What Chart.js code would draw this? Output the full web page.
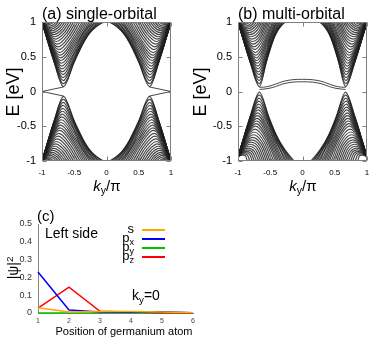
<!DOCTYPE html>
<html>
<head>
<meta charset="utf-8">
<script src="https://cdn.jsdelivr.net/npm/chart.js@4.4.1/dist/chart.umd.min.js"></script>
<style>
body { margin: 0; width: 382px; height: 337px; background: #fff; position: relative; overflow: hidden;
       font-family: "Liberation Sans", Arial, sans-serif; }
canvas { position: absolute; }
.lbl { position: absolute; white-space: nowrap; color: #000; line-height: 1; }
.ctr { transform: translate(-50%, -50%); }
.rot { transform: translate(-50%, -50%) rotate(-90deg); }
sub { font-size: 0.7em; vertical-align: -0.3em; line-height: 0; }
sup { font-size: 0.7em; vertical-align: 0.55em; line-height: 0; }
.key { position: absolute; height: 2px; width: 23px; left: 142px; }
</style>
</head>
<body>
<canvas id="ca" style="left:0;top:0" width="190" height="200"></canvas>
<canvas id="cb" style="left:190px;top:0" width="192" height="200"></canvas>
<canvas id="cc" style="left:0;top:200px" width="200" height="137"></canvas>

<div class="lbl" style="left:42px;top:6px;font-size:16px">(a) single-orbital</div>
<div class="lbl" style="left:238px;top:6px;font-size:16px">(b) multi-orbital</div>
<div class="lbl rot" style="left:13px;top:92px;font-size:18px">E [eV]</div>
<div class="lbl rot" style="left:200px;top:92px;font-size:18px">E [eV]</div>
<div class="lbl ctr" style="left:107px;top:185px;font-size:15px"><i>k</i><sub>y</sub>/π</div>
<div class="lbl ctr" style="left:303px;top:185px;font-size:15px"><i>k</i><sub>y</sub>/π</div>

<div class="lbl" style="left:37px;top:208px;font-size:15px">(c)</div>
<div class="lbl rot" style="left:13px;top:268px;font-size:14px">|ψ|<sup>2</sup></div>
<div class="lbl ctr" style="left:124px;top:331px;font-size:11px">Position of germanium atom</div>
<div class="lbl" style="left:45px;top:226px;font-size:14px">Left side</div>
<div class="lbl" style="left:132px;top:288px;font-size:14px">k<sub>y</sub>=0</div>

<div class="lbl" style="right:248px;top:222px;font-size:13px">s</div>
<div class="lbl" style="right:248px;top:231px;font-size:13px">p<sub>x</sub></div>
<div class="lbl" style="right:248px;top:240px;font-size:13px">p<sub>y</sub></div>
<div class="lbl" style="right:248px;top:249px;font-size:13px">p<sub>z</sub></div>
<div class="key" style="top:229px;background:#ffa500"></div>
<div class="key" style="top:238px;background:#0000ff"></div>
<div class="key" style="top:247px;background:#00c000"></div>
<div class="key" style="top:256px;background:#ff0000"></div>

<script>
// (a) single-orbital: conduction bands, right half (k >= 0); the picture is mirror symmetric in k and E
const bandKA = [
    [0.0444, 0.2069, 0.3558, 0.5079, 0.6676, 0.8065, 0.9044, 0.9682, 1],
    [0.0722, 0.2954, 0.4647, 0.6690, 0.8402, 0.9367, 1],
    [0.1, 0.2248, 0.3657, 0.5140, 0.6712, 0.8085, 0.9053, 0.9686, 1],
    [0.1278, 0.3125, 0.4744, 0.6740, 0.8424, 0.9375, 1],
    [0.1556, 0.2534, 0.3826, 0.5246, 0.6775, 0.8120, 0.9070, 0.9691, 1],
    [0.1833, 0.3372, 0.4891, 0.6817, 0.8459, 0.9389, 1],
    [0.2111, 0.2897, 0.4057, 0.5395, 0.6865, 0.8169, 0.9094, 0.9699, 1],
    [0.2389, 0.3681, 0.5083, 0.6920, 0.8505, 0.9407, 1],
    [0.2667, 0.4782, 0.6980, 0.8830, 1],
    [0.2944, 0.4920, 0.7046, 0.8854, 1],
    [0.3222, 0.5066, 0.7119, 0.8881, 1],
    [0.35, 0.5221, 0.7196, 0.8909, 1],
    [0.3778, 0.5383, 0.7279, 0.8940, 1],
    [0.4111, 0.5588, 0.7385, 0.8979, 1],
    [0.4444, 0.5800, 0.7498, 0.9021, 1],
    [0.4778, 0.6021, 0.7617, 0.9066, 1],
    [0.5111, 0.6249, 0.7742, 0.9113, 1],
    [0.5444, 0.6482, 0.7872, 0.9162, 1],
    [0.5778, 0.6721, 0.8008, 0.9214, 1],
    [0.6111, 0.6965, 0.8148, 0.9268, 1],
    [0.6444, 0.7213, 0.8293, 0.9324, 1],
    [0.6778, 0.7464, 0.8441, 0.9382, 1],
    [0.7111, 0.7719, 0.8593, 0.9441, 1],
    [0.7444, 0.7976, 0.8748, 0.9502, 1],
    [0.7778, 0.8236, 0.8906, 0.9564, 1],
    [0.8167, 0.8541, 0.9093, 0.9638, 1],
    [0.8556, 0.8848, 0.9282, 0.9713, 1]
];
const bandEA = [
    [1, 0.9005, 0.7018, 0.4051, 0.0698, 0.4051, 0.7018, 0.9005, 1],
    [1, 0.8029, 0.5095, 0.1132, 0.5095, 0.8029, 1],
    [1, 0.9026, 0.7089, 0.4249, 0.1564, 0.4249, 0.7089, 0.9026, 1],
    [1, 0.8089, 0.5290, 0.1994, 0.5290, 0.8089, 1],
    [1, 0.9062, 0.7210, 0.4573, 0.2419, 0.4573, 0.7210, 0.9062, 1],
    [1, 0.8180, 0.5572, 0.2840, 0.5572, 0.8180, 1],
    [1, 0.9111, 0.7376, 0.4990, 0.3256, 0.4990, 0.7376, 0.9111, 1],
    [1, 0.8297, 0.5922, 0.3665, 0.5922, 0.8297, 1],
    [1, 0.6826, 0.4067, 0.6826, 1],
    [1, 0.6982, 0.4462, 0.6982, 1],
    [1, 0.7144, 0.4848, 0.7144, 1],
    [1, 0.7312, 0.5225, 0.7312, 1],
    [1, 0.7484, 0.5592, 0.7484, 1],
    [1, 0.7693, 0.6018, 0.7693, 1],
    [1, 0.7902, 0.6428, 0.7902, 1],
    [1, 0.8110, 0.6820, 0.8110, 1],
    [1, 0.8314, 0.7193, 0.8314, 1],
    [1, 0.8512, 0.7547, 0.8512, 1],
    [1, 0.8703, 0.7880, 0.8703, 1],
    [1, 0.8885, 0.8192, 0.8885, 1],
    [1, 0.9057, 0.8480, 0.9057, 1],
    [1, 0.9217, 0.8746, 0.9217, 1],
    [1, 0.9365, 0.8988, 0.9365, 1],
    [1, 0.9499, 0.9205, 0.9499, 1],
    [1, 0.9618, 0.9397, 0.9618, 1],
    [1, 0.9738, 0.9588, 0.9738, 1],
    [1, 0.9837, 0.9744, 0.9837, 1]
];
// (a) edge state, from the cone tip to k = 1
const edgeKA = [0.667, 1];
const edgeEA = [0.065, 0];

// (b) multi-orbital: conduction bands (same energies as (a), narrower cone)
const bandKBup = [
    [0.2685, 0.3725, 0.4678, 0.5652, 0.6676, 0.8065, 0.9044, 0.9682, 1],
    [0.2863, 0.4292, 0.5375, 0.6690, 0.8402, 0.9367, 1],
    [0.3041, 0.3840, 0.4742, 0.5691, 0.6712, 0.8085, 0.9053, 0.9686, 1],
    [0.3219, 0.4401, 0.5437, 0.6740, 0.8424, 0.9375, 1],
    [0.3397, 0.4023, 0.4850, 0.5759, 0.6775, 0.8120, 0.9070, 0.9691, 1],
    [0.3574, 0.4559, 0.5531, 0.6817, 0.8459, 0.9389, 1],
    [0.3752, 0.4255, 0.4998, 0.5854, 0.6865, 0.8169, 0.9094, 0.9699, 1],
    [0.3930, 0.4757, 0.5654, 0.6920, 0.8505, 0.9407, 1],
    [0.4108, 0.5462, 0.6980, 0.8830, 1],
    [0.4285, 0.5550, 0.7046, 0.8854, 1],
    [0.4463, 0.5643, 0.7119, 0.8881, 1],
    [0.4641, 0.5743, 0.7196, 0.8909, 1],
    [0.4819, 0.5846, 0.7279, 0.8940, 1],
    [0.5032, 0.5978, 0.7385, 0.8979, 1],
    [0.5245, 0.6113, 0.7498, 0.9021, 1],
    [0.5459, 0.6255, 0.7617, 0.9066, 1],
    [0.5672, 0.6401, 0.7742, 0.9113, 1],
    [0.5885, 0.6550, 0.7872, 0.9162, 1],
    [0.6099, 0.6721, 0.8008, 0.9214, 1],
    [0.6312, 0.6965, 0.8148, 0.9268, 1],
    [0.6525, 0.7213, 0.8293, 0.9324, 1],
    [0.6778, 0.7464, 0.8441, 0.9382, 1],
    [0.7111, 0.7719, 0.8593, 0.9441, 1],
    [0.7444, 0.7976, 0.8748, 0.9502, 1],
    [0.7778, 0.8236, 0.8906, 0.9564, 1],
    [0.8167, 0.8541, 0.9093, 0.9638, 1],
    [0.8556, 0.8848, 0.9282, 0.9713, 1]
];
// (b) valence bands
const bandKBdn = [
    [0.1316, 0.2713, 0.3994, 0.5302, 0.6676, 0.8065, 0.9044, 0.9682, 1],
    [0.1555, 0.3474, 0.4930, 0.6690, 0.8402, 0.9367, 1],
    [0.1794, 0.2867, 0.4079, 0.5354, 0.6712, 0.8085, 0.9053, 0.9686, 1],
    [0.2033, 0.3621, 0.5014, 0.6740, 0.8424, 0.9375, 1],
    [0.2272, 0.3113, 0.4224, 0.5445, 0.6775, 0.8120, 0.9070, 0.9691, 1],
    [0.2510, 0.3834, 0.5140, 0.6817, 0.8459, 0.9389, 1],
    [0.2749, 0.3425, 0.4423, 0.5573, 0.6865, 0.8169, 0.9094, 0.9699, 1],
    [0.2988, 0.4099, 0.5305, 0.6920, 0.8505, 0.9407, 1],
    [0.3227, 0.5046, 0.6980, 0.8830, 1],
    [0.3466, 0.5165, 0.7046, 0.8854, 1],
    [0.3705, 0.5291, 0.7119, 0.8881, 1],
    [0.3944, 0.5424, 0.7196, 0.8909, 1],
    [0.4183, 0.5563, 0.7279, 0.8940, 1],
    [0.4469, 0.5739, 0.7385, 0.8979, 1],
    [0.4756, 0.5922, 0.7498, 0.9021, 1],
    [0.5043, 0.6112, 0.7617, 0.9066, 1],
    [0.5329, 0.6308, 0.7742, 0.9113, 1],
    [0.5616, 0.6508, 0.7872, 0.9162, 1],
    [0.5903, 0.6721, 0.8008, 0.9214, 1],
    [0.6189, 0.6965, 0.8148, 0.9268, 1],
    [0.6476, 0.7213, 0.8293, 0.9324, 1],
    [0.6778, 0.7464, 0.8441, 0.9382, 1],
    [0.7111, 0.7719, 0.8593, 0.9441, 1],
    [0.7444, 0.7976, 0.8748, 0.9502, 1],
    [0.7778, 0.8236, 0.8906, 0.9564, 1],
    [0.8167, 0.8541, 0.9093, 0.9638, 1],
    [0.8556, 0.8848, 0.9282, 0.9713, 1]
];
const bandEBdn = [
    [-1, -0.8405, -0.6418, -0.3451, -0.0098, -0.3451, -0.6418, -0.8405, -0.94],
    [-1, -0.7429, -0.4495, -0.0532, -0.4495, -0.7429, -0.94],
    [-1, -0.8426, -0.6489, -0.3649, -0.0964, -0.3649, -0.6489, -0.8426, -0.94],
    [-1, -0.7489, -0.4690, -0.1394, -0.4690, -0.7489, -0.94],
    [-1, -0.8462, -0.6610, -0.3973, -0.1819, -0.3973, -0.6610, -0.8462, -0.94],
    [-1, -0.7580, -0.4972, -0.2240, -0.4972, -0.7580, -0.94],
    [-1, -0.8511, -0.6776, -0.4390, -0.2656, -0.4390, -0.6776, -0.8511, -0.94],
    [-1, -0.7697, -0.5322, -0.3065, -0.5322, -0.7697, -0.94],
    [-1, -0.6226, -0.3467, -0.6226, -0.94],
    [-1, -0.6382, -0.3862, -0.6382, -0.94],
    [-1, -0.6544, -0.4248, -0.6544, -0.94],
    [-1, -0.6712, -0.4625, -0.6712, -0.94],
    [-1, -0.6884, -0.4992, -0.6884, -0.94],
    [-1, -0.7093, -0.5418, -0.7093, -0.94],
    [-1, -0.7302, -0.5828, -0.7302, -0.94],
    [-1, -0.7510, -0.6220, -0.7510, -0.94],
    [-1, -0.7714, -0.6593, -0.7714, -0.94],
    [-1, -0.7912, -0.6947, -0.7912, -0.94],
    [-1, -0.8103, -0.7280, -0.8103, -0.94],
    [-1, -0.8285, -0.7592, -0.8285, -0.94],
    [-1, -0.8457, -0.7880, -0.8457, -0.94],
    [-1, -0.8617, -0.8146, -0.8617, -0.94],
    [-1, -0.8765, -0.8388, -0.8765, -0.94],
    [-1, -0.8899, -0.8605, -0.8899, -0.94],
    [-1, -0.9018, -0.8797, -0.9018, -0.94],
    [-1, -0.9138, -0.8988, -0.9138, -0.94],
    [-1, -0.9237, -0.9144, -0.9237, -0.94]
];
// (b) the two edge states crossing the gap, right half
const edgeKB = [0, 0.15, 0.3, 0.42, 0.52, 0.6, 0.667];
const edgeHiB = [0.175, 0.17, 0.145, 0.105, 0.075, 0.063, 0.06];
const edgeLoB = [0.14, 0.135, 0.11, 0.07, 0.045, 0.035, 0.03];

// (c) weight on each atom from the left edge
const atoms = [1, 2, 3, 4, 5, 6];
const sVals = [0.03, 0.005, 0.009, 0.008, 0.005, 0.001];
const pxVals = [0.23, 0.017, 0.006, 0.004, 0.007, 0.001];
const pyVals = [0, 0, 0, 0, 0, 0];
const pzVals = [0.028, 0.145, 0.01, 0.005, 0.002, 0.001];

Chart.defaults.font.family = '"Liberation Sans", Arial, sans-serif';
Chart.defaults.color = '#000';

const bandColor = 'rgba(30,30,30,0.82)';

function mkLine(pts, color, width) {
    return {
        data: pts,
        borderColor: color,
        borderWidth: width || 1.2,
        pointRadius: 0,
        fill: false,
        cubicInterpolationMode: 'monotone'
    };
}

// one dataset per band per half, mirrored around k = 0
function fanSets(ks, es, sign) {
    const sets = [];
    ks.forEach((row, i) => {
        const right = row.map((k, j) => ({ x: k, y: sign * es[i][j] }));
        const left = row.map((k, j) => ({ x: -k, y: sign * es[i][j] })).reverse();
        sets.push(mkLine(left, bandColor), mkLine(right, bandColor));
    });
    return sets;
}

function mirrored(ks, es) {
    const left = ks.map((k, j) => ({ x: -k, y: es[j] })).reverse();
    const right = ks.map((k, j) => ({ x: k, y: es[j] }));
    return left.concat(right.slice(1));
}

// box round the plot area with short inward ticks
const framePlugin = {
    id: 'frame',
    afterDatasetsDraw(chart, args, opts) {
        if (!opts.box) return;
        const { ctx, chartArea: a, scales } = chart;
        const L = Math.round(a.left) + 0.5, R = Math.round(a.right) - 0.5;
        const T = Math.round(a.top) + 0.5, B = Math.round(a.bottom) - 0.5;
        ctx.save();
        ctx.strokeStyle = '#808080';
        ctx.lineWidth = 1;
        ctx.strokeRect(L, T, R - L, B - T);
        ctx.beginPath();
        scales.x.ticks.forEach(t => {
            const px = Math.round(scales.x.getPixelForValue(t.value)) + 0.5;
            ctx.moveTo(px, B); ctx.lineTo(px, B - 4);
            ctx.moveTo(px, T); ctx.lineTo(px, T + 4);
        });
        scales.y.ticks.forEach(t => {
            const py = Math.round(scales.y.getPixelForValue(t.value)) + 0.5;
            ctx.moveTo(L, py); ctx.lineTo(L + 4, py);
            ctx.moveTo(R, py); ctx.lineTo(R - 4, py);
        });
        ctx.stroke();
        ctx.restore();
    }
};

function bandOptions(yWidth, padRight) {
    return {
        responsive: false,
        animation: false,
        events: [],
        layout: { padding: { left: 0, right: padRight, top: 22, bottom: 0 } },
        plugins: { legend: { display: false }, tooltip: { enabled: false }, frame: { box: true } },
        scales: {
            x: {
                type: 'linear', min: -1, max: 1,
                ticks: { stepSize: 0.5, font: { size: 8 }, padding: 7, callback: v => String(v) },
                grid: { display: false, drawTicks: false },
                border: { display: false },
                afterFit: s => { s.height = 39; }
            },
            y: {
                type: 'linear', min: -1, max: 1,
                ticks: { stepSize: 0.5, font: { size: 11 }, padding: 6, callback: v => String(v) },
                grid: { display: false, drawTicks: false },
                border: { display: false },
                afterFit: s => { s.width = yWidth; }
            }
        }
    };
}

try {
    // (a)
    const setsA = fanSets(bandKA, bandEA, 1).concat(fanSets(bandKA, bandEA, -1));
    [1, -1].forEach(sk => [1, -1].forEach(se => {
        setsA.push(mkLine(edgeKA.map((k, j) => ({ x: sk * k, y: se * edgeEA[j] })), bandColor, 1));
    }));
    new Chart(document.getElementById('ca'), {
        type: 'line',
        data: { datasets: setsA },
        options: bandOptions(42, 19),
        plugins: [framePlugin]
    });

    // (b)
    const setsB = fanSets(bandKBup, bandEA, 1).concat(fanSets(bandKBdn, bandEBdn, 1));
    setsB.push(mkLine(mirrored(edgeKB, edgeHiB), bandColor, 1));
    setsB.push(mkLine(mirrored(edgeKB, edgeLoB), bandColor, 1));
    new Chart(document.getElementById('cb'), {
        type: 'line',
        data: { datasets: setsB },
        options: bandOptions(48, 15),
        plugins: [framePlugin]
    });

    // (c)
    const series = [
        { vals: sVals, color: '#ffa500' },
        { vals: pxVals, color: '#0000ff' },
        { vals: pzVals, color: '#ff0000' },
        { vals: pyVals, color: '#00c000' }
    ];
    new Chart(document.getElementById('cc'), {
        type: 'line',
        data: {
            datasets: series.map(s => ({
                data: atoms.map((a, i) => ({ x: a, y: s.vals[i] })),
                borderColor: s.color,
                borderWidth: 1.5,
                pointRadius: 0,
                fill: false,
                clip: false
            }))
        },
        options: {
            responsive: false,
            animation: false,
            events: [],
            layout: { padding: { left: 0, right: 7, top: 24, bottom: 0 } },
            plugins: { legend: { display: false }, tooltip: { enabled: false } },
            scales: {
                x: {
                    type: 'linear', min: 1, max: 6,
                    ticks: { stepSize: 1, font: { size: 7 }, padding: 4, color: '#444' },
                    grid: { display: false, drawTicks: false },
                    border: { display: true, color: '#888' },
                    afterFit: s => { s.height = 24; }
                },
                y: {
                    type: 'linear', min: 0, max: 0.5,
                    ticks: { stepSize: 0.1, font: { size: 9 }, padding: 6, color: '#333' },
                    grid: { display: false, drawTicks: false },
                    border: { display: true, color: '#888' },
                    afterFit: s => { s.width = 38; }
                }
            }
        }
    });
} catch (error) {
    console.error("Error drawing charts:", error.message, error.stack);
}
</script>
</body>
</html>
